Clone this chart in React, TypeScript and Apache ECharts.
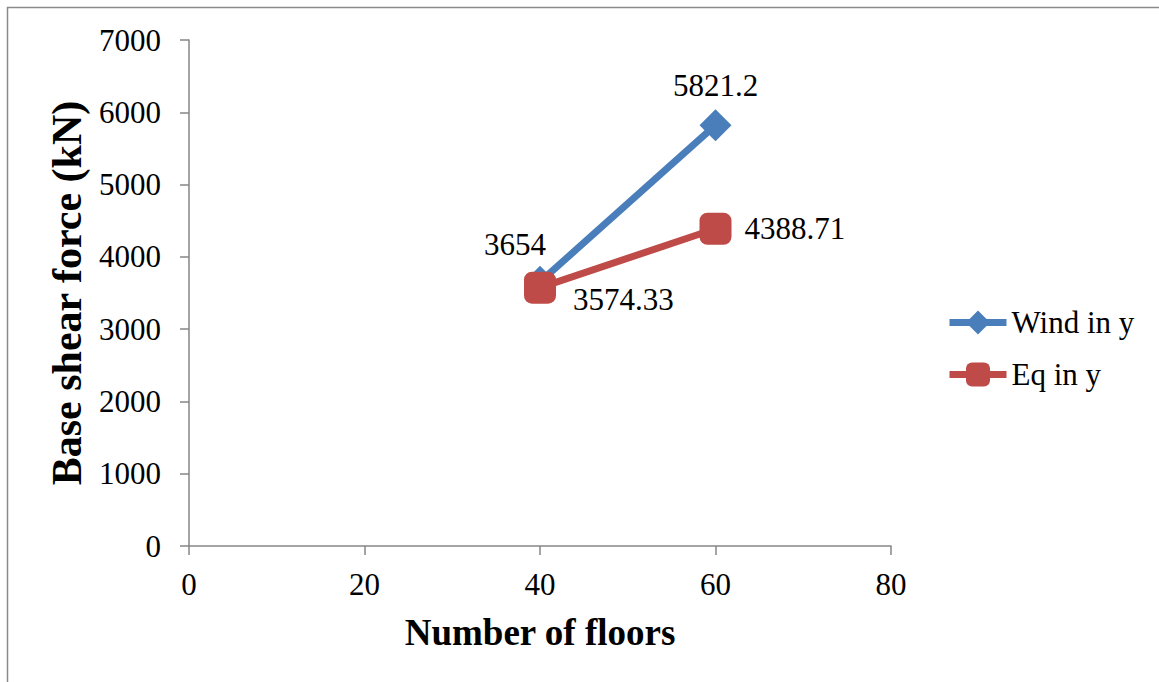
import React, { useEffect, useRef } from "react";
import * as echarts from "echarts";

const floors = [40, 60];
const windInY = [3654, 5821.2];
const eqInY = [3574.33, 4388.71];
const xTicks = [0, 20, 40, 60, 80];
const yMax = 7000;

const FONT = "'Liberation Serif', 'Times New Roman', serif";

export default function App() {
  const ref = useRef<HTMLDivElement>(null);
  useEffect(() => {
    if (!ref.current) return;
    const chart = echarts.init(ref.current, null, { renderer: "svg" });
    const windLabels = [
      { position: "top", distance: 6, offset: [-25, 0] },
      { position: "top", distance: 8, offset: [0, 0] },
    ];
    const eqLabels = [
      { position: "right", distance: 17, offset: [0, 12] },
      { position: "right", distance: 13, offset: [0, 0] },
    ];
    const labelBase = {
      show: true,
      fontFamily: FONT,
      fontSize: 31,
      color: "#000",
      formatter: (p: any) => String(p.value[1]),
    };
    chart.setOption({
      animation: false,
      backgroundColor: "#ffffff",
      textStyle: { fontFamily: FONT },
      graphic: [
        {
          type: "rect",
          shape: { x: 7.5, y: 7.5, width: 1200, height: 700 },
          style: { fill: "none", stroke: "#8a8a8a", lineWidth: 1.5 },
          silent: true,
        },
      ],
      grid: { left: 189, right: 268, top: 40, bottom: 136, containLabel: false },
      xAxis: {
        type: "value",
        min: xTicks[0],
        max: xTicks[xTicks.length - 1],
        interval: 20,
        name: "Number of floors",
        nameLocation: "middle",
        nameGap: 68,
        nameTextStyle: { fontFamily: FONT, fontSize: 37, fontWeight: "bold", color: "#000" },
        axisLine: { show: true, lineStyle: { color: "#868686", width: 1.5 } },
        axisTick: { show: true, length: 9, lineStyle: { color: "#868686", width: 1.5 } },
        axisLabel: { fontFamily: FONT, fontSize: 31, color: "#000", margin: 23 },
        splitLine: { show: false },
      },
      yAxis: {
        type: "value",
        min: 0,
        max: yMax,
        interval: 1000,
        name: "Base shear force (kN)",
        nameLocation: "middle",
        nameGap: 101,
        nameTextStyle: { fontFamily: FONT, fontSize: 42, fontWeight: "bold", color: "#000" },
        axisLine: { show: true, lineStyle: { color: "#868686", width: 1.5 } },
        axisTick: { show: true, length: 9, lineStyle: { color: "#868686", width: 1.5 } },
        axisLabel: {
          fontFamily: FONT,
          fontSize: 31,
          color: "#000",
          margin: 28,
          formatter: (v: number) => String(v),
        },
        splitLine: { show: false },
      },
      legend: {
        orient: "vertical",
        left: 941,
        top: 302,
        itemWidth: 57,
        itemHeight: 30,
        itemGap: 21,
        lineStyle: { width: 7 },
        textStyle: { fontFamily: FONT, fontSize: 31, color: "#000" },
        data: ["Wind in y", "Eq in y"],
      },
      series: [
        {
          name: "Wind in y",
          type: "line",
          symbol: "diamond",
          symbolSize: 32,
          color: "#4A7EBB",
          lineStyle: { width: 7, color: "#4A7EBB" },
          itemStyle: { color: "#4A7EBB" },
          data: floors.map((f, i) => ({
            value: [f, windInY[i]],
            label: { show: true, ...windLabels[i] },
          })),
          label: labelBase,
          z: 2,
        },
        {
          name: "Eq in y",
          type: "line",
          symbol: "roundRect",
          symbolSize: 32,
          color: "#BE4B48",
          lineStyle: { width: 7, color: "#BE4B48" },
          itemStyle: { color: "#BE4B48" },
          data: floors.map((f, i) => ({
            value: [f, eqInY[i]],
            label: { show: true, ...eqLabels[i] },
          })),
          label: labelBase,
          z: 3,
        },
      ],
    });
    return () => chart.dispose();
  }, []);
  return (
    <div
      ref={ref}
      style={{ position: "fixed", left: 0, top: 0, width: 1159, height: 682, background: "#fff" }}
    />
  );
}
